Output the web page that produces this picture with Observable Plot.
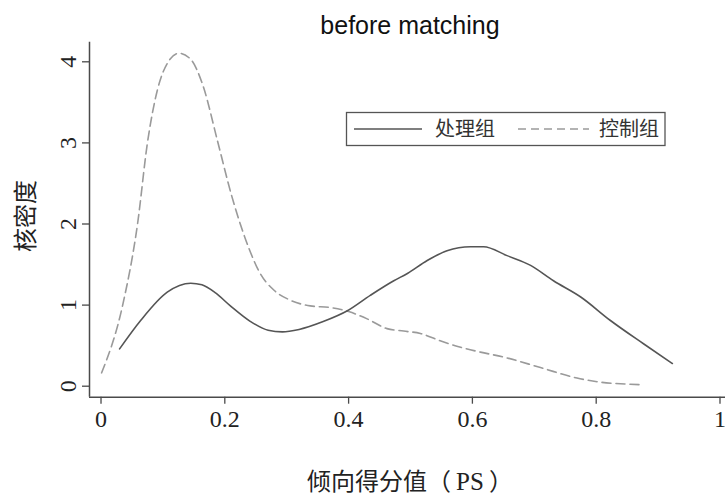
<!DOCTYPE html>
<html>
<head>
<meta charset="utf-8">
<script src="https://cdn.jsdelivr.net/npm/d3@7"></script>
<script src="https://cdn.jsdelivr.net/npm/@observablehq/plot@0.6"></script>
<style>
  html, body { margin: 0; padding: 0; background: #fff; }
  #chart { position: relative; width: 725px; height: 501px; }
</style>
</head>
<body>
<div id="chart"></div>
<script>
// ---- data ----
const title = "before matching";
const xLabelMain = "倾向得分值";
const xLabelOpen = "（";
const xLabelUnit = "PS";
const xLabelClose = "）";
const yLabel = "核密度";
const seriesNames = ["处理组", "控制组"];

const psTreated = [0.030,0.064,0.107,0.145,0.163,0.185,0.209,0.241,0.270,0.293,0.320,0.360,0.398,0.435,0.473,0.495,0.527,0.559,0.597,0.618,0.656,0.694,0.731,0.775,0.823,0.877,0.923];
const densTreated = [0.46,0.81,1.16,1.27,1.25,1.15,0.99,0.80,0.69,0.67,0.70,0.80,0.93,1.12,1.30,1.39,1.55,1.67,1.72,1.72,1.61,1.49,1.30,1.10,0.81,0.52,0.28];

const psControl = [0.001,0.035,0.059,0.075,0.091,0.107,0.126,0.145,0.165,0.188,0.211,0.225,0.240,0.255,0.280,0.306,0.338,0.371,0.400,0.430,0.462,0.489,0.516,0.548,0.581,0.613,0.650,0.710,0.769,0.807,0.850,0.877];
const densControl = [0.165,1.00,2.00,3.00,3.65,3.98,4.106,4.03,3.70,3.03,2.35,2.00,1.68,1.42,1.18,1.06,0.99,0.97,0.92,0.83,0.71,0.68,0.65,0.56,0.48,0.42,0.36,0.23,0.10,0.05,0.025,0.017];

const xTicks = [0, 0.2, 0.4, 0.6, 0.8, 1];
const xTickLabels = ["0", "0.2", "0.4", "0.6", "0.8", "1"];
const yTicks = [0, 1, 2, 3, 4];
const yTickLabels = ["0", "1", "2", "3", "4"];

// ---- tables ----
const treated = psTreated.map((ps, i) => ({ps, density: densTreated[i]}));
const control = psControl.map((ps, i) => ({ps, density: densControl[i]}));

const xDomain = [-0.0186, 1.0089];
const yDomain = [-0.1356, 4.2417];
const axisColor = "#4a4a4a";
const serif = "'Liberation Serif', 'Times New Roman', serif";
const cjk = "'Noto Sans CJK SC', sans-serif";

const chart = Plot.plot({
  width: 725,
  height: 501,
  marginLeft: 89,
  marginRight: 0,
  marginTop: 41.7,
  marginBottom: 104.3,
  style: {background: "#fff", fontFamily: serif, fontSize: "24px", color: "#222", overflow: "visible"},
  x: {domain: xDomain},
  y: {domain: yDomain},
  marks: [
    Plot.line(control, {x: "ps", y: "density", stroke: "#9a9a9a", strokeWidth: 1.6, strokeDasharray: "9,5", curve: "monotone-x"}),
    Plot.line(treated, {x: "ps", y: "density", stroke: "#555", strokeWidth: 1.6, curve: "monotone-x"}),
    Plot.axisX({ticks: xTicks, tickFormat: d => xTickLabels[xTicks.indexOf(d)], tickSize: 7, tickPadding: 6, label: null, stroke: axisColor, fill: "#222", strokeWidth: 1.3, fontSize: 24, fontFamily: serif}),
    Plot.axisY({ticks: yTicks, tickFormat: d => yTickLabels[yTicks.indexOf(d)], tickSize: 7, tickPadding: 7, tickRotate: -90, label: null, stroke: axisColor, fill: "#222", strokeWidth: 1.3, fontSize: 24, fontFamily: serif}),
    Plot.ruleX([xDomain[0]], {stroke: axisColor, strokeWidth: 1.5}),
    Plot.ruleY([yDomain[0]], {stroke: axisColor, strokeWidth: 1.5})
  ]
});
document.getElementById("chart").appendChild(chart);

// ---- title, axis titles, legend ----
const svg = d3.select(chart);
svg.append("text")
  .attr("x", 410).attr("y", 34)
  .attr("text-anchor", "middle")
  .style("font-family", "'Liberation Sans', Arial, sans-serif")
  .style("font-size", "25px")
  .attr("fill", "#111")
  .text(title);

const xl = svg.append("text")
  .attr("x", 410).attr("y", 490)
  .attr("text-anchor", "middle")
  .style("font-family", cjk)
  .style("font-size", "24px")
  .attr("fill", "#222");
xl.append("tspan").text(xLabelMain);
xl.append("tspan").text(xLabelOpen);
xl.append("tspan").attr("dx", 5).style("font-family", serif).style("font-size", "25px").text(xLabelUnit);
xl.append("tspan").attr("dx", 5).text(xLabelClose);

svg.append("text")
  .attr("transform", "translate(34,216) rotate(-90)")
  .attr("text-anchor", "middle")
  .style("font-family", cjk)
  .style("font-size", "24px")
  .attr("fill", "#222")
  .text(yLabel);

const lg = svg.append("g").attr("text-anchor", "start");
lg.append("rect")
  .attr("x", 346.5).attr("y", 112.5).attr("width", 318.5).attr("height", 33)
  .attr("fill", "#fff").attr("stroke", "#555").attr("stroke-width", 1.3);
lg.append("line").attr("x1", 354).attr("x2", 422).attr("y1", 129).attr("y2", 129)
  .attr("stroke", "#555").attr("stroke-width", 1.6);
lg.append("line").attr("x1", 518).attr("x2", 589).attr("y1", 129).attr("y2", 129)
  .attr("stroke", "#9a9a9a").attr("stroke-width", 1.6).attr("stroke-dasharray", "8,5");
lg.append("text").attr("x", 435).attr("y", 136).attr("text-anchor", "start")
  .style("font-family", cjk).style("font-size", "20px").attr("fill", "#333").text(seriesNames[0]);
lg.append("text").attr("x", 599).attr("y", 136).attr("text-anchor", "start")
  .style("font-family", cjk).style("font-size", "20px").attr("fill", "#333").text(seriesNames[1]);
</script>
</body>
</html>
